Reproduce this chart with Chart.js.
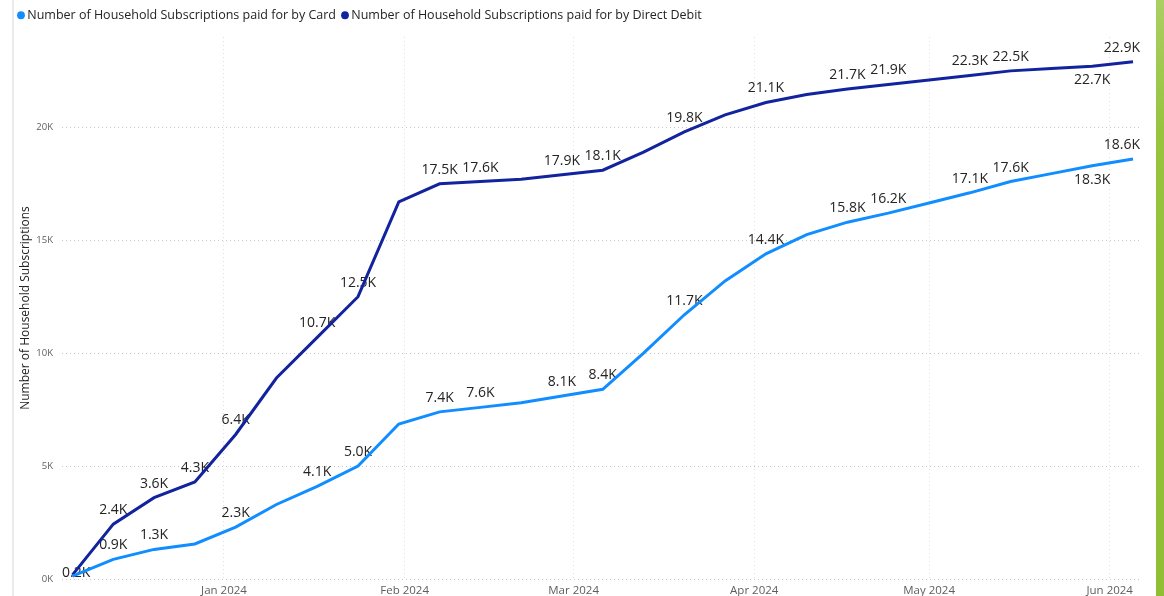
<!DOCTYPE html>
<html lang="en">
<head>
  <meta charset="utf-8"/>
  <title>Household Subscriptions by payment method</title>
  <script src="https://cdn.jsdelivr.net/npm/chart.js@4.4.1/dist/chart.umd.min.js"></script>
  <style>
    body { margin: 0; background: #fff; }
    #wrap { position: relative; width: 1164px; height: 596px; overflow: hidden; }
    #edge { position: absolute; left: 12px; top: 0; width: 2px; height: 596px; background: #ecebea; }
    #band {
      position: absolute; left: 1156px; top: 0; width: 8px; height: 596px;
      background: linear-gradient(to bottom, #aacf63 0%, #97c33e 22%, #8fbe33 100%);
    }
    canvas { position: absolute; left: 0; top: 0; }
  </style>
</head>
<body>
<div id="wrap">
  <canvas id="lineChart" width="1164" height="596"></canvas>
  <div id="edge"></div>
  <div id="band"></div>
</div>

<script>
// days counted from 1 Jan 2024, one point per week
const weekDays = [-26, -19, -12, -5, 2, 9, 16, 23, 30, 37, 44, 51, 58, 65, 72, 79, 86, 93, 100, 107, 114, 121, 128, 135, 142, 149, 156];

const cardValues = [130, 870, 1310, 1550, 2300, 3300, 4100, 5000, 6860, 7400, 7600, 7800, 8100, 8400, 10000, 11700, 13200, 14400, 15250, 15800, 16200, 16650, 17100, 17600, 17950, 18300, 18600];
const debitValues = [180, 2430, 3600, 4300, 6400, 8900, 10700, 12500, 16700, 17500, 17600, 17700, 17900, 18100, 18900, 19800, 20550, 21100, 21450, 21700, 21900, 22100, 22300, 22500, 22600, 22700, 22900];

const monthTicks = [0, 31, 60, 91, 121, 152];
const monthLabels = ['Jan 2024', 'Feb 2024', 'Mar 2024', 'Apr 2024', 'May 2024', 'Jun 2024'];
const yTicks = [0, 5000, 10000, 15000, 20000];

// which points carry a data label: a = above, b = below, c = on the point
const cardLabelPlace = ['', 'a', 'a', '', 'a', '', 'a', 'a', '', 'a', 'a', '', 'a', 'a', '', 'a', '', 'a', '', 'a', 'a', '', 'a', 'a', '', 'b', 'a'];
const debitLabelPlace = ['c', 'a', 'a', 'a', 'a', '', 'a', 'a', '', 'a', 'a', '', 'a', 'a', '', 'a', '', 'a', '', 'a', 'a', '', 'a', 'a', '', 'b', 'a'];

const FONT = '"Open Sans", "Noto Sans", sans-serif';
Chart.defaults.font.family = FONT;

const toPoints = vals => vals.map((v, i) => ({ x: weekDays[i], y: v }));

const legendHeight = {
  id: 'legendHeight',
  beforeInit(chart) {
    const fit = chart.legend.fit;
    chart.legend.fit = function () {
      fit.bind(chart.legend)();
      this.height = 37;
    };
  }
};

const pointLabels = {
  id: 'pointLabels',
  beforeDatasetsDraw(chart) {
    const { ctx, chartArea } = chart;
    const places = [cardLabelPlace, debitLabelPlace];
    ctx.save();
    ctx.font = '14px ' + FONT;
    ctx.fillStyle = '#252423';
    ctx.textAlign = 'center';
    ctx.textBaseline = 'middle';
    chart.data.datasets.forEach((ds, di) => {
      const meta = chart.getDatasetMeta(di);
      meta.data.forEach((pt, i) => {
        const place = places[di][i];
        if (!place) return;
        const txt = (ds.data[i].y / 1000).toFixed(1) + 'K';
        const w = ctx.measureText(txt).width;
        const x = Math.min(Math.max(pt.x, chartArea.left + w / 2), chartArea.right - w / 2);
        let y = pt.y - 14;
        if (place === 'b') y = pt.y + 14;
        if (place === 'c') y = pt.y - 2;
        ctx.fillText(txt, x, y);
      });
    });
    ctx.restore();
  }
};

new Chart(document.getElementById('lineChart'), {
  type: 'line',
  data: {
    datasets: [
      {
        label: 'Number of Household Subscriptions paid for by Card',
        data: toPoints(cardValues),
        borderColor: '#118DFF',
        backgroundColor: '#118DFF',
        borderWidth: 3,
        pointRadius: 0,
        tension: 0
      },
      {
        label: 'Number of Household Subscriptions paid for by Direct Debit',
        data: toPoints(debitValues),
        borderColor: '#12239E',
        backgroundColor: '#12239E',
        borderWidth: 3,
        pointRadius: 0,
        tension: 0
      }
    ]
  },
  options: {
    responsive: false,
    animation: false,
    layout: { padding: { left: 12, right: 24, top: 0, bottom: 0 } },
    plugins: {
      tooltip: { enabled: false },
      legend: {
        position: 'top',
        align: 'start',
        labels: {
          usePointStyle: true,
          pointStyle: 'circle',
          boxWidth: 0.01,
          boxHeight: 5.5,
          padding: 9,
          color: '#252423',
          font: { size: 12.5 },
          generateLabels(chart) {
            return Chart.defaults.plugins.legend.labels.generateLabels(chart)
              .map(l => ({ ...l, lineWidth: 0, pointStyle: 'circle' }));
          }
        }
      }
    },
    scales: {
      x: {
        type: 'linear',
        min: -27.8,
        max: 157.2,
        afterBuildTicks: s => { s.ticks = monthTicks.map(v => ({ value: v })); },
        afterFit: s => { s.height = 17; },
        ticks: {
          padding: 5,
          color: '#605E5C',
          font: { size: 11.5 },
          maxRotation: 0,
          autoSkip: false,
          callback: v => monthLabels[monthTicks.indexOf(v)]
        },
        grid: { color: '#E1DFDD', drawTicks: false },
        border: { display: false, dash: [1, 3] }
      },
      y: {
        min: 0,
        max: 24000,
        afterBuildTicks: s => { s.ticks = yTicks.map(v => ({ value: v })); },
        afterFit: s => { s.width = 50; },
        ticks: {
          padding: 9,
          color: '#605E5C',
          font: { size: 9.5 },
          callback: v => (v / 1000) + 'K'
        },
        grid: { color: '#C8C6C4', drawTicks: false },
        border: { display: false, dash: [1, 3] },
        title: {
          display: true,
          text: 'Number of Household Subscriptions',
          color: '#252423',
          font: { size: 12 },
          padding: { top: 6, bottom: 0 }
        }
      }
    }
  },
  plugins: [legendHeight, pointLabels]
});
</script>
</body>
</html>
